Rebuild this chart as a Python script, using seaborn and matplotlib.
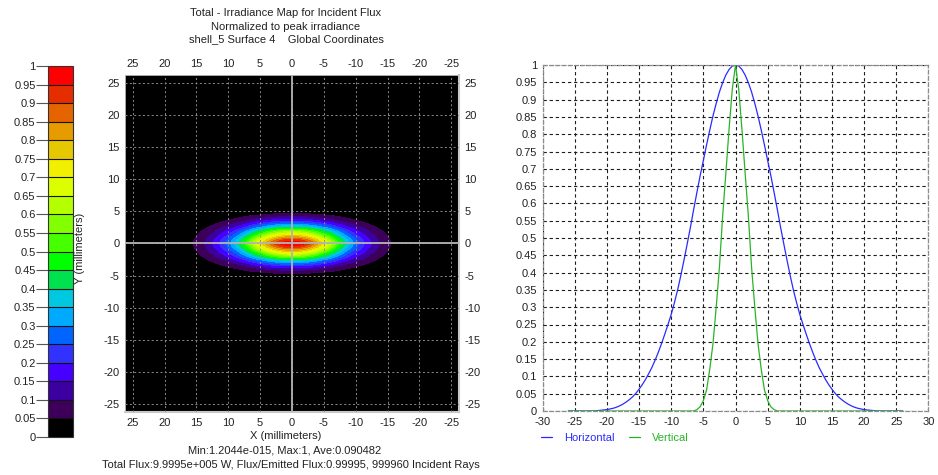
import numpy as np
import pandas as pd
import matplotlib
matplotlib.use("Agg")
import matplotlib.pyplot as plt
from matplotlib.colors import ListedColormap, BoundaryNorm
import seaborn as sns

# detector sampling grid (mm), shared by both directions
pos_mm = np.arange(-26.0, 26.01, 0.5)

# normalized irradiance along the horizontal (X) cut through the peak
horizontal = [
    0.000, 0.000, 0.000, 0.000, 0.000, 0.000, 0.000, 0.000, 0.000,
    0.001, 0.002, 0.003, 0.004, 0.006, 0.008, 0.011, 0.015, 0.020, 0.026,
    0.033, 0.041, 0.051, 0.063, 0.076, 0.091, 0.108, 0.126, 0.147, 0.170,
    0.195, 0.222, 0.250, 0.279, 0.313, 0.350, 0.392, 0.437, 0.484, 0.532,
    0.583, 0.632, 0.680, 0.724, 0.769, 0.812, 0.853, 0.889, 0.922, 0.949,
    0.971, 0.987, 0.997,
    1.000,
    0.997, 0.987, 0.971,
    0.949, 0.922, 0.889, 0.853, 0.812, 0.769, 0.724, 0.680, 0.632, 0.583,
    0.532, 0.484, 0.437, 0.392, 0.350, 0.313, 0.279, 0.250, 0.222, 0.195,
    0.170, 0.147, 0.126, 0.108, 0.091, 0.076, 0.063, 0.051, 0.041, 0.033,
    0.026, 0.020, 0.015, 0.011, 0.008, 0.006, 0.004, 0.003, 0.002, 0.001,
    0.000, 0.000, 0.000, 0.000, 0.000, 0.000, 0.000, 0.000, 0.000,
]

# normalized irradiance along the vertical (Y) cut through the peak
vertical = [
    0.000, 0.000, 0.000, 0.000, 0.000, 0.000, 0.000, 0.000, 0.000, 0.000,
    0.000, 0.000, 0.000, 0.000, 0.000, 0.000, 0.000, 0.000, 0.000, 0.000,
    0.000, 0.000, 0.000, 0.000, 0.000, 0.000, 0.000, 0.000, 0.000, 0.000,
    0.000, 0.000, 0.000, 0.000, 0.000, 0.000, 0.000, 0.000, 0.000, 0.000,
    0.004, 0.012, 0.030, 0.061, 0.121, 0.195, 0.300, 0.415, 0.563, 0.687,
    0.815, 0.930,
    1.000,
    0.930, 0.815,
    0.687, 0.563, 0.415, 0.300, 0.195, 0.121, 0.061, 0.030, 0.012, 0.004,
    0.000, 0.000, 0.000, 0.000, 0.000, 0.000, 0.000, 0.000, 0.000, 0.000,
    0.000, 0.000, 0.000, 0.000, 0.000, 0.000, 0.000, 0.000, 0.000, 0.000,
    0.000, 0.000, 0.000, 0.000, 0.000, 0.000, 0.000, 0.000, 0.000, 0.000,
    0.000, 0.000, 0.000, 0.000, 0.000, 0.000, 0.000, 0.000, 0.000, 0.000,
]

# 20-step false-colour scale, 0 -> 1
level_edges = np.round(np.linspace(0.0, 1.0, 21), 2)
band_colors = [
    "#000000", "#3c005a", "#3c00a0", "#4600ff", "#3232ff",
    "#0064ff", "#00aaff", "#00c8e1", "#00e150", "#00ff00",
    "#46ff00", "#82ff00", "#b4ff00", "#dcff00", "#f0f000",
    "#e6c800", "#e69b00", "#e66400", "#e62d00", "#ff0000",
]

map_ticks = list(range(25, -26, -5))
profile_xticks = list(range(-30, 31, 5))
profile_yticks = np.round(np.linspace(0.0, 1.0, 21), 2)

title_lines = [
    "Total - Irradiance Map for Incident Flux",
    "Normalized to peak irradiance",
    "shell_5 Surface 4    Global Coordinates",
]
footer_lines = [
    "X (millimeters)",
    "Min:1.2044e-015, Max:1, Ave:0.090482",
    "Total Flux:9.9995e+005 W, Flux/Emitted Flux:0.99995, 999960 Incident Rays",
]

sns.set_theme(style="white")
plt.rcParams["font.family"] = ["Liberation Sans", "DejaVu Sans"]
plt.rcParams["axes.unicode_minus"] = False
plt.rcParams["font.size"] = 8

W, H = 938, 475
fig = plt.figure(figsize=(W / 100, H / 100), dpi=100)
fig.patch.set_facecolor("white")


def px_axes(left, top, right, bottom):
    return fig.add_axes([left / W, 1 - bottom / H, (right - left) / W, (bottom - top) / H])


ax_map = px_axes(125, 75, 459, 412)
ax_cb = px_axes(48, 66, 73, 437)
ax_prof = px_axes(542.6, 65, 928.4, 411)

cmap = ListedColormap(band_colors)
norm = BoundaryNorm(level_edges, cmap.N)

# irradiance map built from the two orthogonal cuts
irr = np.outer(np.array(vertical), np.array(horizontal))
ax_map.set_facecolor("black")
cf = ax_map.contourf(pos_mm, pos_mm, irr, levels=level_edges, cmap=cmap, norm=norm,
                     zorder=1)
ax_map.set_xlim(26.2, -26.2)
ax_map.set_ylim(-26.2, 26.2)
ax_map.set_xticks(map_ticks)
ax_map.set_yticks(map_ticks)
ax_map.set_xticklabels([str(t) for t in map_ticks])
ax_map.set_yticklabels([str(t) for t in map_ticks])
ax_map.tick_params(axis="both", which="both", length=0, pad=4, labelsize=8,
                   colors="#222222", top=True, bottom=True, left=True, right=True,
                   labeltop=True, labelbottom=True, labelleft=True, labelright=True)
ax_map.set_axisbelow(False)
ax_map.grid(True, color="#8c8c8c", linestyle=(0, (2, 2.5)), linewidth=0.7, zorder=3)
ax_map.axhline(0, color="#b4b4b4", linewidth=1.3, zorder=4)
ax_map.axvline(0, color="#b4b4b4", linewidth=1.3, zorder=4)
for side, sp in ax_map.spines.items():
    sp.set_color("#c8c8c8")
    sp.set_linewidth(1.5 if side in ("right", "bottom") else 0.6)

# discrete colour legend
cb = fig.colorbar(cf, cax=ax_cb, ticks=level_edges, drawedges=True)
cb.outline.set_edgecolor("#333333")
cb.outline.set_linewidth(0.8)
cb.dividers.set_color("#111111")
cb.dividers.set_linewidth(0.8)
ax_cb.yaxis.set_ticks_position("left")
ax_cb.set_yticklabels([f"{v:g}" for v in level_edges])
ax_cb.tick_params(axis="y", length=9, width=0.8, color="#555555", pad=0,
                  labelsize=8, labelcolor="#222222")

fig.text(80 / W, 1 - 248 / H, "Y (millimeters)", rotation=90, ha="center",
         va="center", fontsize=8, color="#222222")

for i, line in enumerate(title_lines):
    fig.text(286 / W, 1 - (13.5 + 13 * i) / H, line, ha="center", va="center",
             fontsize=8, color="#222222")
for i, (line, cx) in enumerate(zip(footer_lines, [286, 285, 291])):
    fig.text(cx / W, 1 - (436 + 14.5 * i) / H, line, ha="center", va="center",
             fontsize=8, color="#222222")

# cuts through the peak
profiles = pd.DataFrame({
    "pos": np.concatenate([pos_mm, pos_mm]),
    "irr": np.concatenate([horizontal, vertical]),
    "cut": ["Horizontal"] * len(pos_mm) + ["Vertical"] * len(pos_mm),
})
palette = {"Horizontal": "#2a2aff", "Vertical": "#28b428"}
sns.lineplot(data=profiles, x="pos", y="irr", hue="cut", palette=palette,
             linewidth=0.9, ax=ax_prof, legend=False, estimator=None, sort=False)
ax_prof.set_xlim(-30, 30)
ax_prof.set_ylim(0, 1)
ax_prof.set_xticks(profile_xticks)
ax_prof.set_yticks(profile_yticks)
ax_prof.set_xticklabels([str(t) for t in profile_xticks])
ax_prof.set_yticklabels([f"{v:g}" for v in profile_yticks])
ax_prof.set_xlabel("")
ax_prof.set_ylabel("")
ax_prof.tick_params(axis="both", length=0, pad=4, labelsize=8, colors="#222222")
ax_prof.grid(True, color="#1e1e1e", linestyle=(0, (3, 2.5)), linewidth=0.8)
for sp in ax_prof.spines.values():
    sp.set_color("#8c8c8c")
    sp.set_linestyle((0, (3, 2)))
    sp.set_linewidth(0.9)

handles = [plt.Line2D([], [], color=palette[k], linewidth=0.9) for k in palette]
leg = ax_prof.legend(handles, list(palette), loc="center left",
                     bbox_to_anchor=(-0.005, -0.077), ncol=2, frameon=False,
                     fontsize=8, handlelength=1.0, handletextpad=1.1,
                     columnspacing=1.3, borderpad=0, borderaxespad=0)
for txt, k in zip(leg.get_texts(), palette):
    txt.set_color(palette[k])

fig.savefig("out.png", dpi=100, facecolor="white")
